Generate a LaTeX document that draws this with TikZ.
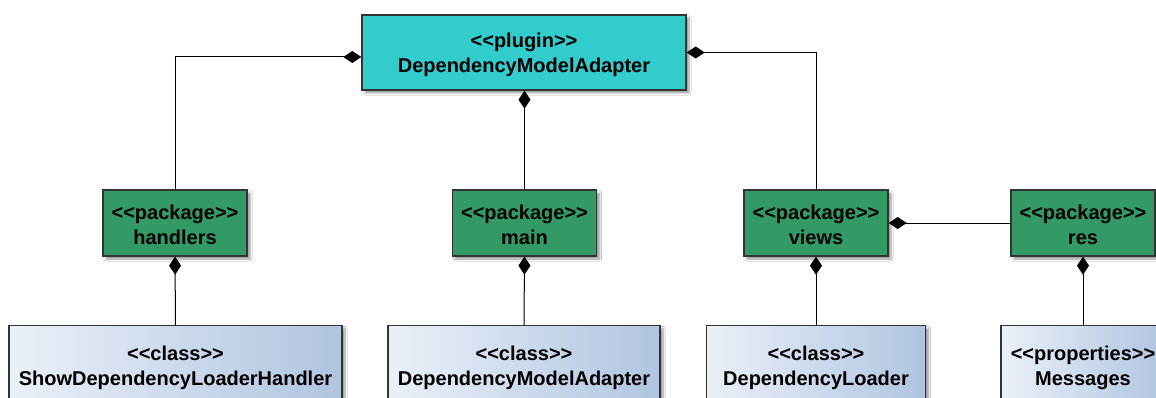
\documentclass[tikz,border=0pt]{standalone}
\usepackage{fontspec}
\setmainfont{Liberation Sans}[Ligatures=TeXOff]
\usetikzlibrary{arrows.meta,shadows.blur}
\definecolor{plugincol}{HTML}{33CCCC}
\definecolor{pkgcol}{HTML}{339966}
\definecolor{clsleft}{HTML}{EBF0F8}
\definecolor{clsright}{HTML}{B0C4E0}
\definecolor{edgecol}{HTML}{333333}
% two-line label whose first line is made a little taller, so the text sits lower
\newcommand\twolines[3]{\rule{0pt}{#1}#2\\#3}
\tikzset{
  umlbox/.style={draw=edgecol, line width=1.3pt, align=center, inner sep=0pt,
    font=\fontsize{20}{25}\selectfont\bfseries,
    blur shadow={shadow xshift=3pt, shadow yshift=-3pt, shadow blur steps=6, shadow opacity=40}},
  pluginbox/.style={umlbox, fill=plugincol, minimum width=324pt, minimum height=75pt},
  pkgbox/.style={umlbox, fill=pkgcol, minimum width=144pt, minimum height=66pt},
  clsbox/.style={umlbox, left color=clsleft, right color=clsright, minimum height=83pt},
  comp/.style={draw=black, line width=1pt, -{Diamond[length=18pt,width=12pt]}}
}
\begin{document}
\begin{tikzpicture}[x=1pt,y=-1pt]
\useasboundingbox (0,0) rectangle (1156,398);
\clip (0,0) rectangle (1156,398);
\fill[white] (0,0) rectangle (1156,398);

% plugin
\node[pluginbox] (plugin) at (524,52.5) {\twolines{20pt}{<<plugin>>}{DependencyModelAdapter}};

% packages
\node[pkgbox] (handlers) at (175,223) {\twolines{18pt}{<<package>>}{handlers}};
\node[pkgbox] (mainpkg)  at (524.5,223) {\twolines{18pt}{<<package>>}{main}};
\node[pkgbox] (views)    at (816,223) {\twolines{18pt}{<<package>>}{views}};
\node[pkgbox] (res)      at (1083,223) {\twolines{18pt}{<<package>>}{res}};

% classes
\node[clsbox, minimum width=333pt] (handlercls) at (175.5,367) {\twolines{17pt}{<<class>>}{ShowDependencyLoaderHandler}};
\node[clsbox, minimum width=272pt] (adaptercls) at (524,367) {\twolines{17pt}{<<class>>}{DependencyModelAdapter}};
\node[clsbox, minimum width=219pt] (loadercls)  at (816,367) {\twolines{17pt}{<<class>>}{DependencyLoader}};
\node[clsbox, minimum width=164pt] (messages)   at (1083,367) {\twolines{17pt}{<<properties>>}{Messages}};

% composition links
\draw[comp] (handlers.north) |- ([yshift=-4.5pt]plugin.west);
\draw[comp] (mainpkg.north) -- (mainpkg.north |- plugin.south);
\draw[comp] (views.north) |- (plugin.east);
\draw[comp] (res.west) -- (views.east);
\draw[comp] (handlercls.north) -- (handlers.south);
\draw[comp] (adaptercls.north) -- (mainpkg.south);
\draw[comp] (loadercls.north) -- (views.south);
\draw[comp] (messages.north) -- (res.south);
\end{tikzpicture}
\end{document}
